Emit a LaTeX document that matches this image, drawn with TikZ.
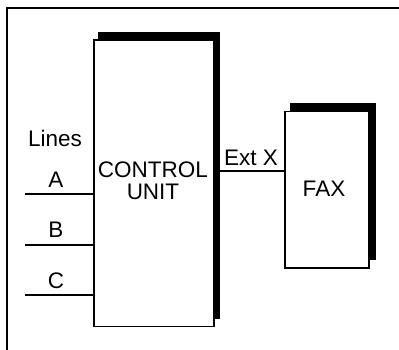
\documentclass[tikz,border=0pt]{standalone}
\usepackage{fontspec}
\setmainfont{Liberation Sans}
\begin{document}
\begin{tikzpicture}[x=1pt,y=-1pt,
  box/.style={draw=black,fill=white,line width=1.5pt,inner sep=0pt,anchor=north west},
  shadowbox/.style={fill=black,draw=none,inner sep=0pt,anchor=north west},
  wire/.style={line width=1.4pt},
  lbl/.style={font=\fontsize{22.5}{22}\selectfont,inner sep=0pt},
  frameline/.style={line width=2pt}]
\useasboundingbox (0,0) rectangle (399,350);
% frame
\coordinate (f1) at (7,350);
\coordinate (f2) at (7,8);
\coordinate (f3) at (399,8);
\draw[frameline] (f1) -- (f2) -- (f3);
% control unit
\node[shadowbox,minimum width=122pt,minimum height=287pt] (cus) at (98,32) {};
\node[box,minimum width=120pt,minimum height=286pt] (cu) at (93,39.5) {};
\node[lbl,align=center] (cut) at (153,181) {CONTROL\\UNIT};
% fax
\node[shadowbox,minimum width=86pt,minimum height=157pt] (fxs) at (290,103) {};
\node[box,minimum width=84pt,minimum height=156pt] (fx) at (284,111) {};
\node[lbl] (fxt) at (324,189) {FAX};
% lines
\node[lbl] (lines) at (55,138) {Lines};
\coordinate (a0) at (25,194);
\coordinate (b0) at (25,245);
\coordinate (c0) at (25,295);
\draw[wire] (a0) -- (a0 -| cu.west);
\draw[wire] (b0) -- (b0 -| cu.west);
\draw[wire] (c0) -- (c0 -| cu.west);
\node[lbl] (la) at (56,180) {A};
\node[lbl] (lb) at (56,230) {B};
\node[lbl] (lc) at (56,281) {C};
% ext x
\coordinate (e0) at (220,171);
\draw[wire] (e0) -- (e0 -| fx.west);
\node[lbl] (ext) at (251,158) {Ext X};
\end{tikzpicture}
\end{document}
